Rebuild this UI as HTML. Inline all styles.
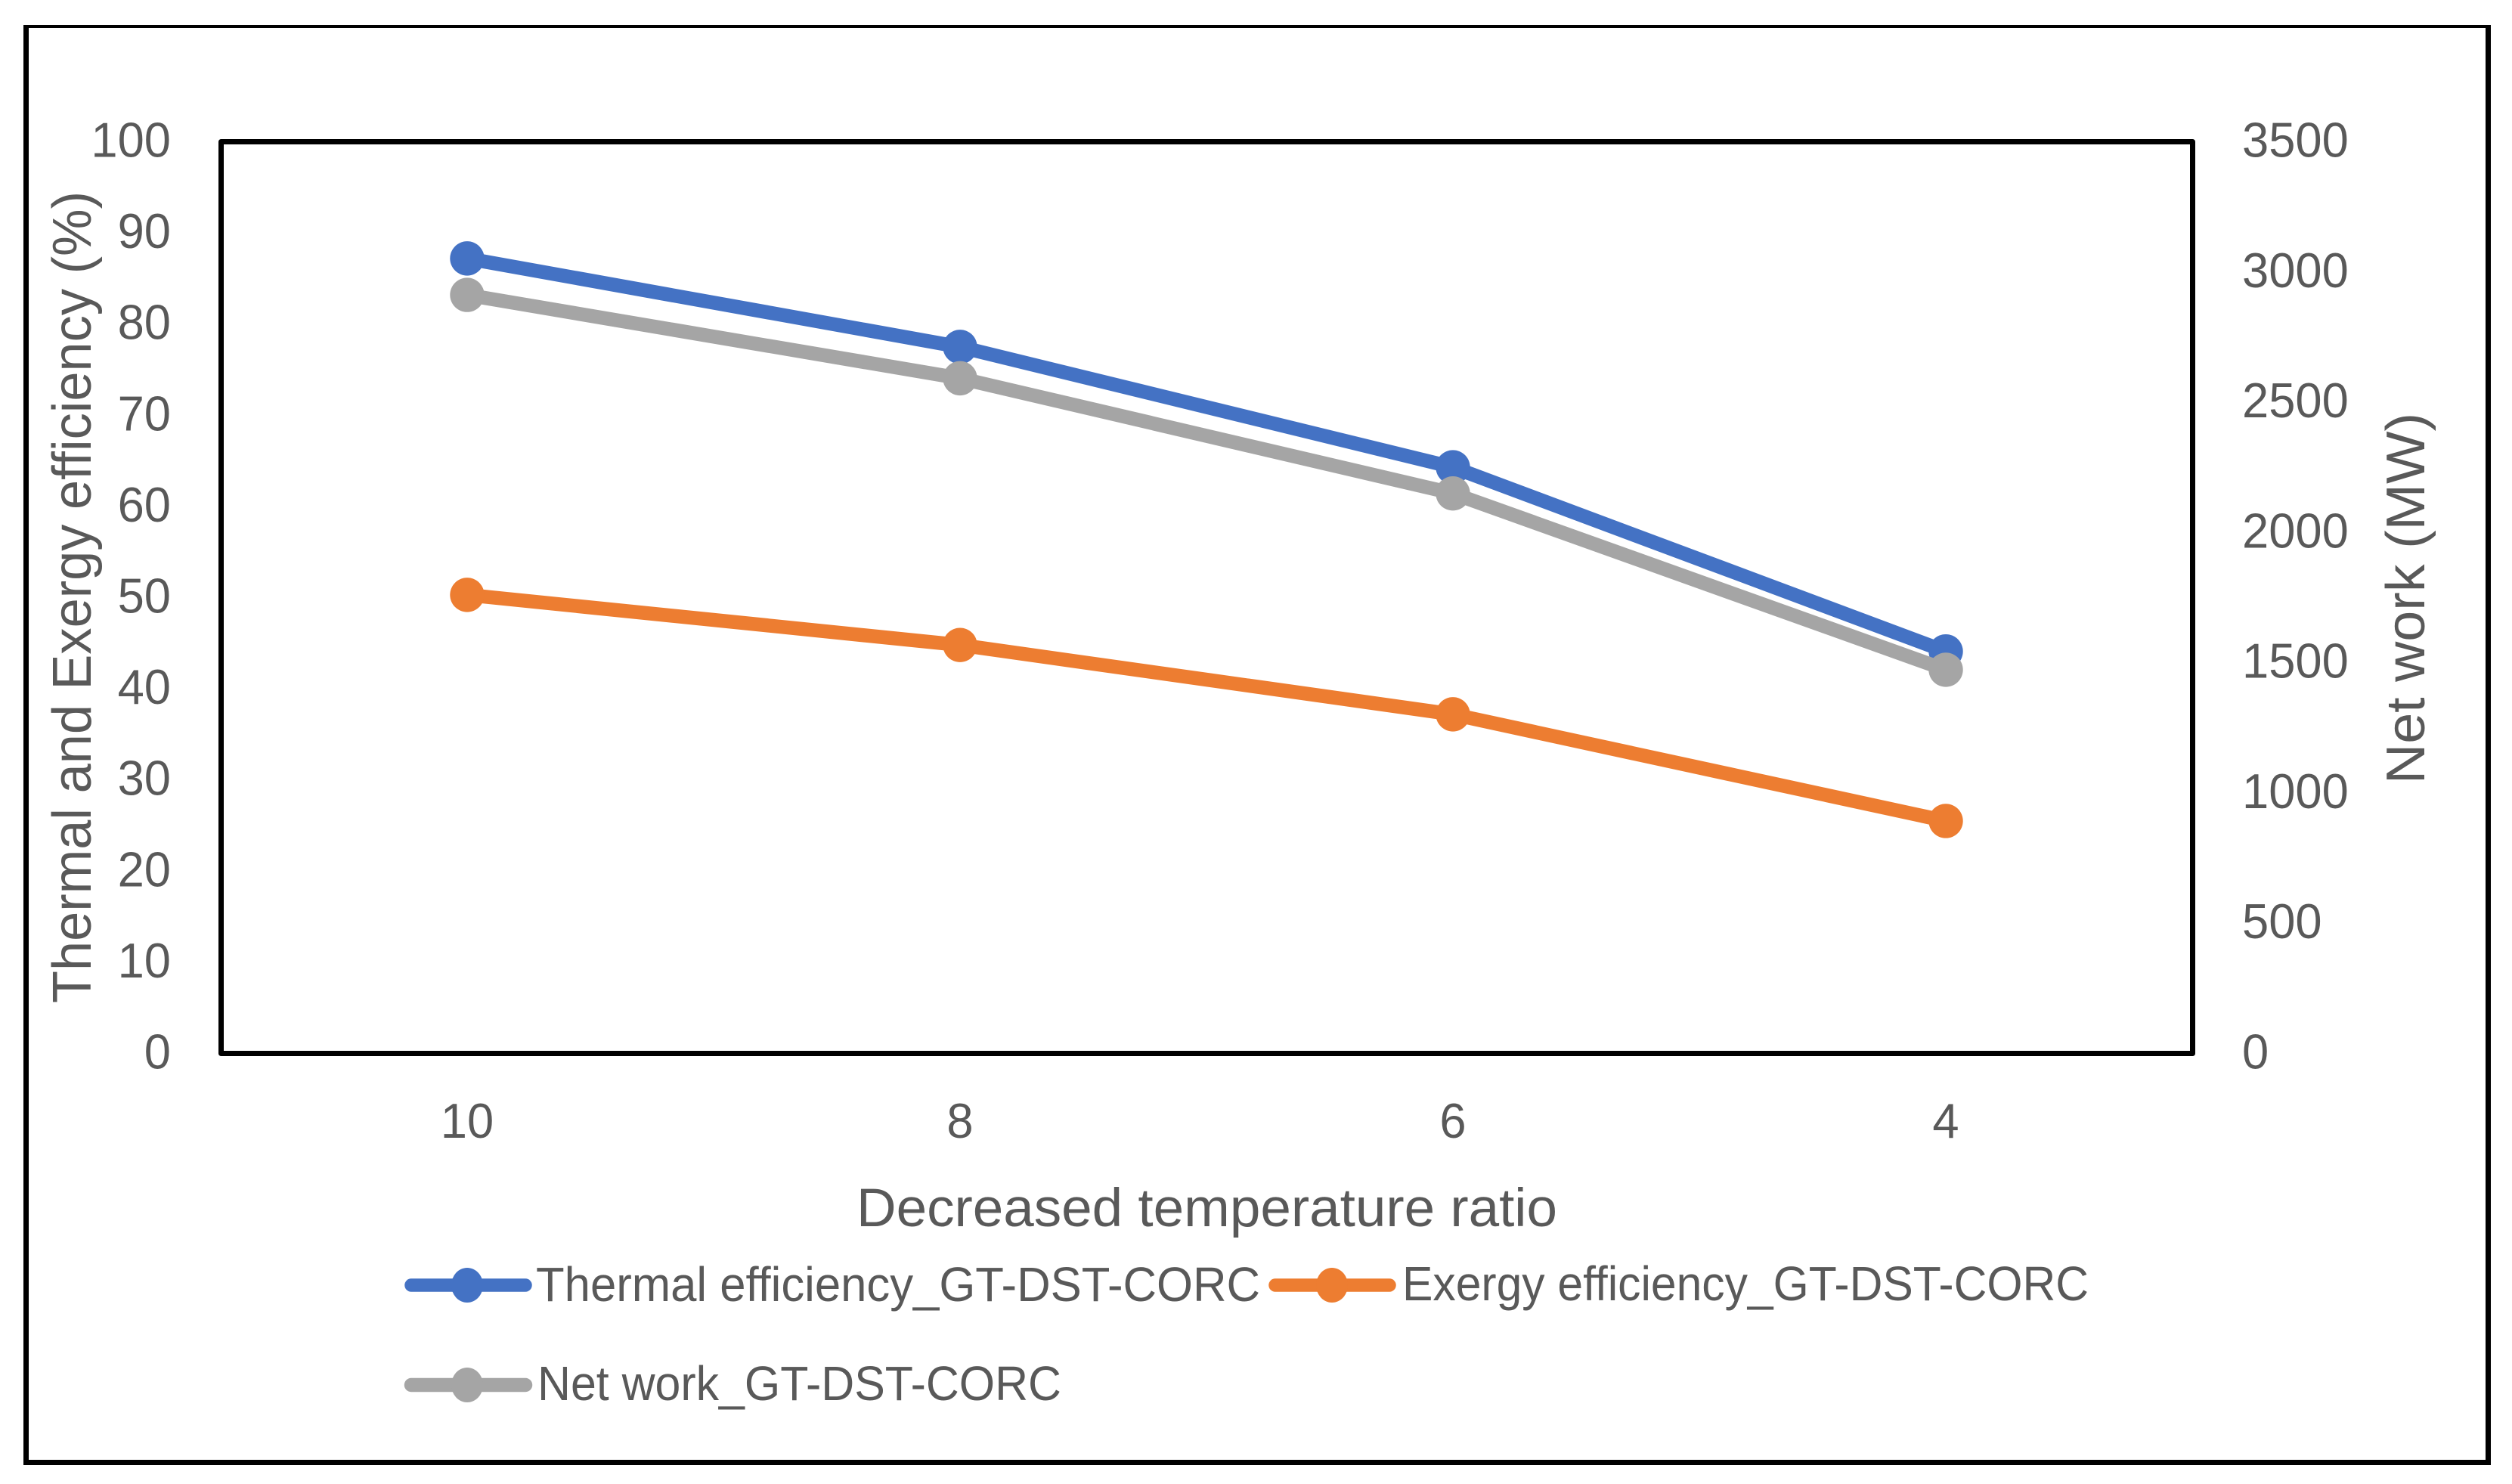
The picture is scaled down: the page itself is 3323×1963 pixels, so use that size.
<!DOCTYPE html>
<html lang="en">
<head>
<meta charset="utf-8">
<title>Thermal and exergy efficiency versus decreased temperature ratio</title>
<style>
html,body{margin:0;padding:0;background:#fff;}
svg{display:block;}
text{font-family:"Liberation Sans",sans-serif;fill:#595959;}
</style>
</head>
<body>
<svg id="chart" xmlns="http://www.w3.org/2000/svg" width="3323" height="1963" viewBox="0 0 3323 1963">
  <rect x="0" y="0" width="3323" height="1963" fill="#ffffff"/>
  <g fill="#000000">
    <rect x="31" y="33" width="3264" height="4"/>
    <rect x="31" y="33" width="7" height="1905"/>
    <rect x="3288" y="33" width="7" height="1905"/>
    <rect x="31" y="1931" width="3264" height="7"/>
  </g>
  <rect x="292.5" y="187.5" width="2608" height="1206" fill="none" stroke="#000000" stroke-width="7" stroke-linejoin="round"/>
  <g id="left-ticks"></g>
  <g id="right-ticks"></g>
  <g id="x-ticks"></g>
  <g id="series"></g>
  <text transform="translate(120,1327) rotate(-90)" font-size="72" textLength="1074" lengthAdjust="spacingAndGlyphs">Thermal and Exergy efficiency (%)</text>
  <text transform="translate(3207,1037) rotate(-90)" font-size="72" textLength="491" lengthAdjust="spacingAndGlyphs">Net work (MW)</text>
  <text x="1133" y="1622" font-size="71" textLength="927" lengthAdjust="spacingAndGlyphs">Decreased temperature ratio</text>
  <g>
    <g>
      <line x1="544" y1="1700" x2="695" y2="1700" stroke="#4472C4" stroke-width="17.5" stroke-linecap="round"/>
      <ellipse cx="618" cy="1700" rx="21" ry="23" fill="#4472C4"/>
      <text x="709" y="1721" font-size="64" textLength="958" lengthAdjust="spacingAndGlyphs">Thermal efficiency_GT-DST-CORC</text>
    </g>
    <g>
      <line x1="1687" y1="1700" x2="1838" y2="1700" stroke="#ED7D31" stroke-width="17.5" stroke-linecap="round"/>
      <ellipse cx="1762" cy="1700" rx="21" ry="23" fill="#ED7D31"/>
      <text x="1855" y="1720" font-size="64" textLength="908" lengthAdjust="spacingAndGlyphs">Exergy efficiency_GT-DST-CORC</text>
    </g>
    <g>
      <line x1="544" y1="1832" x2="695" y2="1832" stroke="#A5A5A5" stroke-width="18.5" stroke-linecap="round"/>
      <ellipse cx="618" cy="1832" rx="21" ry="23" fill="#A5A5A5"/>
      <text x="711" y="1852" font-size="64" textLength="693" lengthAdjust="spacingAndGlyphs">Net work_GT-DST-CORC</text>
    </g>
  </g>
</svg>
<script>
const categories = ['10', '8', '6', '4'];
const thermalEfficiency = [87.2, 77.5, 64.3, 44.1];
const exergyEfficiency = [50.3, 44.8, 37.2, 25.5];
const netWork = [2912, 2592, 2150, 1473];
const leftTicks = [0, 10, 20, 30, 40, 50, 60, 70, 80, 90, 100];
const rightTicks = [0, 500, 1000, 1500, 2000, 2500, 3000, 3500];

const SVG_NS = 'http://www.w3.org/2000/svg';
const plotLeft = 292, plotRight = 2900, plotTop = 187.5, plotBottom = 1393.5;
const leftMax = 100, rightMax = 3500;
const digitWidth = 35.2, tickFont = 65;

function xPos(index) {
  return plotLeft + (plotRight - plotLeft) * (index + 0.5) / categories.length;
}
function yLeft(value) {
  return plotBottom - (plotBottom - plotTop) * value / leftMax;
}
function yRight(value) {
  return plotBottom - (plotBottom - plotTop) * value / rightMax;
}
function tickText(parent, label, x, y, anchor) {
  const el = document.createElementNS(SVG_NS, 'text');
  el.setAttribute('x', x);
  el.setAttribute('y', y);
  el.setAttribute('font-size', tickFont);
  el.setAttribute('text-anchor', anchor);
  el.setAttribute('textLength', String(label).length * digitWidth);
  el.setAttribute('lengthAdjust', 'spacingAndGlyphs');
  el.textContent = label;
  parent.appendChild(el);
  return el;
}

const leftGroup = document.getElementById('left-ticks');
leftTicks.forEach(function (value) {
  const el = tickText(leftGroup, value, 226, yLeft(value) + 20, 'end');
  
  
});

const rightGroup = document.getElementById('right-ticks');
rightTicks.forEach(function (value) {
  const el = tickText(rightGroup, value, 2966, yRight(value) + 20, 'start');
  
  
});

const xGroup = document.getElementById('x-ticks');
categories.forEach(function (label, i) {
  const el = tickText(xGroup, label, xPos(i), 1505, 'middle');
  
  
});

function drawSeries(name, values, yScale, color) {
  const group = document.getElementById('series');
  const line = document.createElementNS(SVG_NS, 'polyline');
  
  
  line.setAttribute('points', values.map(function (v, i) {
    return xPos(i) + ',' + yScale(v);
  }).join(' '));
  line.setAttribute('fill', 'none');
  line.setAttribute('stroke', color);
  line.setAttribute('stroke-width', '18.5');
  line.setAttribute('stroke-linejoin', 'round');
  line.setAttribute('stroke-linecap', 'round');
  group.appendChild(line);
  values.forEach(function (v, i) {
    const dot = document.createElementNS(SVG_NS, 'circle');
    
    
    dot.setAttribute('cx', xPos(i));
    dot.setAttribute('cy', yScale(v));
    dot.setAttribute('r', '22.7');
    dot.setAttribute('fill', color);
    group.appendChild(dot);
  });
}

drawSeries('thermal-efficiency', thermalEfficiency, yLeft, '#4472C4');
drawSeries('exergy-efficiency', exergyEfficiency, yLeft, '#ED7D31');
drawSeries('net-work', netWork, yRight, '#A5A5A5');
</script>
</body>
</html>
